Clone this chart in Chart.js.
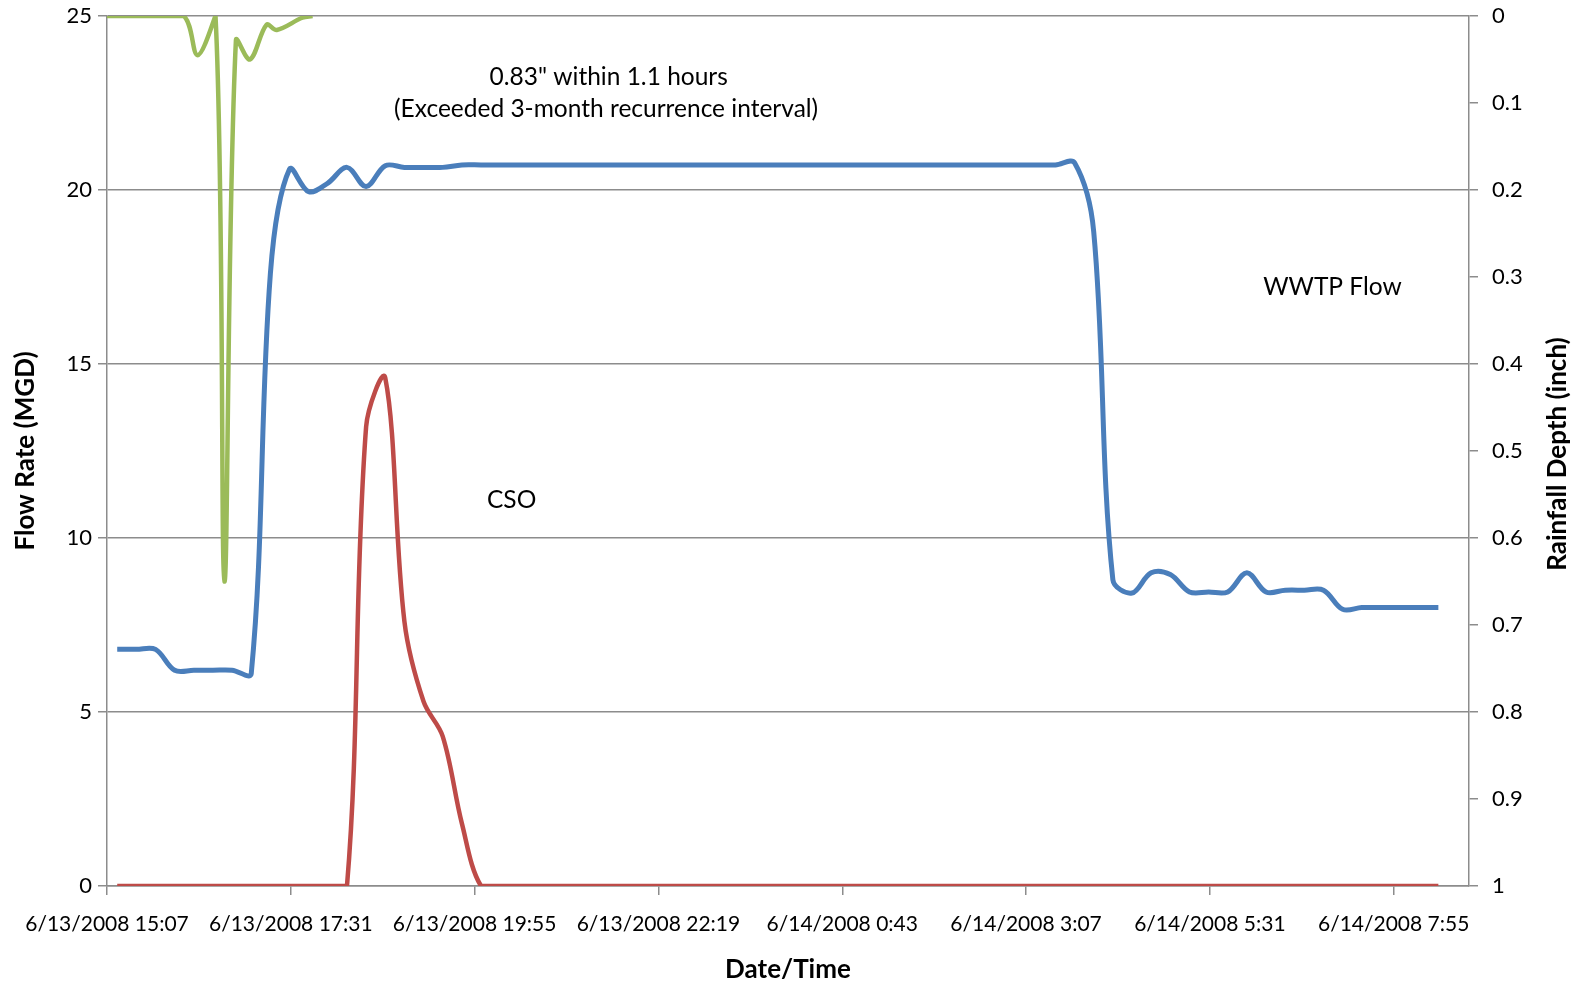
<!DOCTYPE html>
<html>
<head>
<meta charset="utf-8">
<title>WWTP Flow, CSO and Rainfall</title>
<script src="https://cdn.jsdelivr.net/npm/chart.js@4.4.1/dist/chart.umd.min.js"></script>
<style>
  html, body { margin: 0; padding: 0; background: #fff; }
  #chart { display: block; }
</style>
</head>
<body>
<canvas id="chart" width="1583" height="983"></canvas>
<script>
/* global Chart */

// x values are minutes after 6/13/2008 15:07
const xTickMin = [0, 144, 288, 432, 576, 720, 864, 1008];
const xTickLabels = [
  "6/13/2008 15:07",
  "6/13/2008 17:31",
  "6/13/2008 19:55",
  "6/13/2008 22:19",
  "6/14/2008 0:43",
  "6/14/2008 3:07",
  "6/14/2008 5:31",
  "6/14/2008 7:55",
];
const xMax = 1067;

// flow readings, every 15 minutes from 15:15
const flowMin = [
  8, 23, 38, 53, 68, 83, 98, 113, 128, 143,
  158, 173, 188, 203, 218, 233, 248, 263, 278, 293,
  308, 323, 338, 353, 368, 383, 398, 413, 428, 443,
  458, 473, 488, 503, 518, 533, 548, 563, 578, 593,
  608, 623, 638, 653, 668, 683, 698, 713, 728, 743,
  758, 773, 788, 803, 818, 833, 848, 863, 878, 893,
  908, 923, 938, 953, 968, 983, 998, 1013, 1028, 1043,
];
const wwtpFlow = [
  6.8, 6.8, 6.8, 6.2, 6.2, 6.2, 6.2, 6.1, 17.6, 20.6,
  19.95, 20.2, 20.65, 20.1, 20.7, 20.65, 20.65, 20.65, 20.72, 20.72,
  20.72, 20.72, 20.72, 20.72, 20.72, 20.72, 20.72, 20.72, 20.72, 20.72,
  20.72, 20.72, 20.72, 20.72, 20.72, 20.72, 20.72, 20.72, 20.72, 20.72,
  20.72, 20.72, 20.72, 20.72, 20.72, 20.72, 20.72, 20.72, 20.72, 20.72,
  20.78, 18.8, 8.8, 8.42, 9.0, 8.95, 8.45, 8.45, 8.45, 9.0,
  8.45, 8.5, 8.5, 8.5, 7.95, 8.0, 8.0, 8.0, 8.0, 8.0,
];
const csoFlow = [
  0, 0, 0, 0, 0, 0, 0, 0, 0, 0,
  0, 0, 0, 13.2, 14.6, 7.6, 5.3, 4.3, 1.8, 0,
  0, 0, 0, 0, 0, 0, 0, 0, 0, 0,
  0, 0, 0, 0, 0, 0, 0, 0, 0, 0,
  0, 0, 0, 0, 0, 0, 0, 0, 0, 0,
  0, 0, 0, 0, 0, 0, 0, 0, 0, 0,
  0, 0, 0, 0, 0, 0, 0, 0, 0, 0,
];

// rainfall depth (inch), plotted on the reversed right axis
const rainMin = [0, 30, 60, 71, 85, 92, 101, 112, 125, 133, 153, 161];
const rainDepth = [0, 0, 0, 0.045, 0, 0.65, 0.028, 0.05, 0.01, 0.016, 0.002, 0];

const notes = [
  { text: "0.83\" within 1.1 hours", x: 393, y: 23.25 },
  { text: "(Exceeded 3-month recurrence interval)", x: 391, y: 22.33 },
  { text: "CSO", x: 317, y: 11.1 },
  { text: "WWTP Flow", x: 960, y: 17.2 },
];

const FONT = "Lato, 'Open Sans', sans-serif";
const GRID = "#8c8c8c";
const BLUE = "#4a7ebb";
const RED = "#be4b48";
const GREEN = "#9bbb59";

function pts(xs, ys) {
  return xs.map((x, i) => ({ x, y: ys[i] }));
}

// fixed axis sizes, no label overflow padding
function fixWidth(w) {
  return (s) => {
    s.width = w;
    s.paddingTop = 0;
    s.paddingBottom = 0;
  };
}

const textPlugin = {
  id: "texts",
  afterDraw(chart) {
    const c = chart.ctx;
    const xs = chart.scales.x;
    const ys = chart.scales.y;
    const area = chart.chartArea;
    c.save();
    c.fillStyle = "#000";
    c.textAlign = "center";
    c.textBaseline = "middle";

    c.font = `24.5px ${FONT}`;
    notes.forEach((n) => {
      c.fillText(n.text, xs.getPixelForValue(n.x), ys.getPixelForValue(n.y));
    });

    c.font = `bold 26px ${FONT}`;
    const midY = (area.top + area.bottom) / 2;
    c.save();
    c.translate(ys.left + 26, midY);
    c.rotate(-Math.PI / 2);
    c.fillText("Flow Rate (MGD)", 0, 0);
    c.restore();

    c.save();
    c.translate(chart.scales.y1.right - 25, midY + 3);
    c.rotate(-Math.PI / 2);
    c.fillText("Rainfall Depth (inch)", 0, 0);
    c.restore();

    c.fillText("Date/Time", (area.left + area.right) / 2, xs.bottom - 13);
    c.restore();
  },
};

const ctx = document.getElementById("chart");
const chart = new Chart(ctx, {
  type: "line",
  data: {
    datasets: [
      {
        label: "Rainfall",
        data: pts(rainMin, rainDepth),
        borderColor: GREEN,
        borderWidth: 4.5,
        pointRadius: 0,
        tension: 0.35,
        yAxisID: "y1",
        clip: 0,
      },
      {
        label: "WWTP Flow",
        data: pts(flowMin, wwtpFlow),
        borderColor: BLUE,
        borderWidth: 5,
        pointRadius: 0,
        tension: 0.35,
        yAxisID: "y",
      },
      {
        label: "CSO",
        data: pts(flowMin, csoFlow),
        borderColor: RED,
        borderWidth: 4.5,
        pointRadius: 0,
        tension: 0.35,
        yAxisID: "y",
      },
    ],
  },
  options: {
    responsive: false,
    animation: false,
    devicePixelRatio: 1,
    layout: { padding: { top: 16, left: 0, right: 0, bottom: 0 } },
    plugins: {
      legend: { display: false },
      tooltip: { enabled: false },
    },
    scales: {
      x: {
        type: "linear",
        min: 0,
        max: xMax,
        afterBuildTicks: (s) => {
          s.ticks = xTickMin.map((v) => ({ value: v }));
        },
        afterFit: (s) => {
          s.height = 97;
          s.paddingLeft = 0;
          s.paddingRight = 0;
        },
        ticks: {
          autoSkip: false,
          maxRotation: 0,
          padding: 17,
          color: "#000",
          font: { family: FONT, size: 21 },
          callback: (v) => xTickLabels[xTickMin.indexOf(v)],
        },
        grid: { drawOnChartArea: false, tickLength: 9, color: GRID, lineWidth: 1.5 },
        border: { color: GRID, width: 1.5 },
      },
      y: {
        position: "left",
        min: 0,
        max: 25,
        afterFit: fixWidth(107),
        ticks: {
          stepSize: 5,
          padding: 6,
          color: "#000",
          font: { family: FONT, size: 22 },
        },
        grid: { color: GRID, lineWidth: 1.5, tickLength: 9 },
        border: { color: GRID, width: 1.5 },
      },
      y1: {
        position: "right",
        reverse: true,
        min: 0,
        max: 1,
        afterFit: fixWidth(114),
        ticks: {
          stepSize: 0.1,
          padding: 14,
          color: "#000",
          font: { family: FONT, size: 22 },
          callback: (v) => String(Math.round(v * 10) / 10),
        },
        grid: { drawOnChartArea: false, color: GRID, lineWidth: 1.5, tickLength: 9 },
        border: { color: GRID, width: 1.5 },
      },
    },
  },
  plugins: [textPlugin],
});
</script>
</body>
</html>
